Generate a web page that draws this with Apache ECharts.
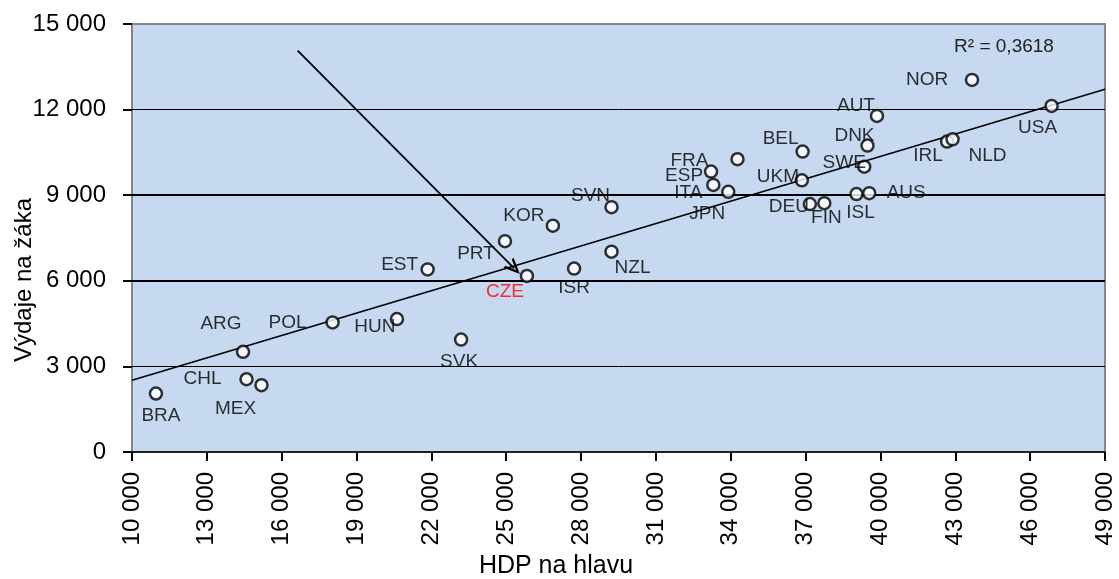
<!DOCTYPE html>
<html>
<head>
<meta charset="utf-8">
<script src="https://cdn.jsdelivr.net/npm/echarts@6/dist/echarts.min.js"></script>
<style>html,body{margin:0;padding:0;background:#fff;}#c{width:1119px;height:579px;}</style>
</head>
<body>
<div id="c"></div>
<script>
// ---- data ----
var countries = ['BRA','ARG','CHL','MEX','POL','HUN','EST','SVK','PRT','CZE','KOR','ISR','SVN','NZL','ESP','ITA','JPN','FRA','BEL','UKM','DEU','FIN','ISL','SWE','AUS','DNK','AUT','IRL','NLD','NOR','USA'];
var gdpPerCapita = [10960,14450,14590,15190,18040,20620,21850,23190,24950,25830,26870,27720,29220,29220,33210,33300,33900,34270,36880,36850,37170,37750,39040,39350,39550,39480,39860,42670,42890,43670,46860];
var spendPerPupil = [2050,3510,2550,2340,4540,4660,6400,3940,7390,6170,7930,6430,8580,7020,9830,9360,9120,10260,10530,9520,8690,8720,9040,10000,9070,10740,11780,10880,10960,13040,12130];
var trendX = [10000, 49000];
var trendY = [2515, 12716];
var arrowFrom = [16640, 14070];
var arrowTo = [25320, 6435];
var yTicks = [3000, 6000, 9000, 12000];
var r2Text = 'R² = 0,3618';

// ---- label placement (style) ----
var labelOffset = {
  BRA:[5,22], ARG:[-22,-28], CHL:[-44,0], MEX:[-26,24], POL:[-45,0], HUN:[-22,8],
  EST:[-28,-5], SVK:[-2,22], PRT:[-29,13], CZE:[-22,16], KOR:[-29,-10], ISR:[0,19],
  SVN:[-21,-11], NZL:[21,16], ESP:[-27,4], ITA:[-25,8], JPN:[-21,22], FRA:[-48,2],
  BEL:[-22,-13], UKM:[-24,-4], DEU:[-21,3], FIN:[2,15], ISL:[4,19], AUS:[37,0],
  SWE:[-20,-4], DNK:[-13,-10], AUT:[-21,-10], IRL:[-19,14], NLD:[35,16], NOR:[-45,0], USA:[-14,22]
};

function fmt(v){
  if (v < 1000) return String(v);
  var t = Math.floor(v/1000), r = v % 1000;
  return t + ' ' + String(r).padStart(3,'0');
}

var scatterData = countries.map(function(c,i){
  return {
    name: c,
    value: [gdpPerCapita[i], spendPerPupil[i]],
    label: { offset: labelOffset[c] || [0,0], color: c === 'CZE' ? '#ff0000' : '#000000' }
  };
});

var gridLines = yTicks.map(function(v){
  return { yAxis: v, lineStyle: { width: (v === 6000 || v === 9000) ? 2 : 1, color: '#000', type: 'solid' } };
});

var chart = echarts.init(document.getElementById('c'), null, {renderer:'canvas'});
chart.setOption({
  animation: false,
  backgroundColor: '#ffffff',
  grid: { left: 132, top: 24, right: 14, bottom: 127, show: true, backgroundColor: '#C6D9F0', borderColor: '#858585', borderWidth: 2 },
  xAxis: {
    type: 'value', min: 10000, max: 49000, interval: 3000,
    axisLine: { show: true, lineStyle: { color: '#000', width: 1.5 } },
    axisTick: { show: true, inside: false, length: 9, lineStyle: { color: '#000', width: 2 } },
    axisLabel: { rotate: 90, margin: 20, formatter: fmt, fontFamily: 'Liberation Sans', fontSize: 24, color: '#000' },
    splitLine: { show: false }
  },
  yAxis: {
    type: 'value', min: 0, max: 15000, interval: 3000,
    axisLine: { show: false },
    axisTick: { show: true, inside: false, length: 9, lineStyle: { color: '#000', width: 2 } },
    axisLabel: { margin: 26, formatter: fmt, fontFamily: 'Liberation Sans', fontSize: 24, color: '#000' },
    splitLine: { show: false }
  },
  graphic: [
    { type: 'text', x: 556, y: 566, style: { text: 'HDP na hlavu', font: '25px "Liberation Sans"', fill: '#000', align: 'center', verticalAlign: 'middle' }, z: 100 },
    { type: 'text', x: 24, y: 280, rotation: Math.PI/2, style: { text: 'Výdaje na žáka', font: '24px "Liberation Sans"', fill: '#000', align: 'center', verticalAlign: 'middle' }, z: 100 },
    { type: 'text', x: 1004, y: 47, style: { text: r2Text, font: '19px "Liberation Sans"', fill: '#222', align: 'center', verticalAlign: 'middle' }, z: 100 }
  ],
  series: [
    {
      type: 'line', name: 'trend', data: trendX.map(function(x,i){ return [x, trendY[i]]; }),
      symbol: 'none', lineStyle: { color: '#000', width: 1.6 }, z: 3, silent: true,
      markLine: { silent: true, symbol: ['none','none'], label: { show: false }, data: gridLines, z: 1 }
    },
    {
      type: 'line', name: 'arrow', data: [], z: 4,
      markLine: {
        silent: true, symbol: ['none', 'path://M5,0 L10,12 L8.2,12 L5,4 L1.8,12 L0,12 Z'], symbolSize: [14, 16],
        label: { show: false }, lineStyle: { color: '#000', width: 1.8, type: 'solid' },
        data: [[{ coord: arrowFrom }, { coord: arrowTo }]]
      }
    },
    {
      type: 'scatter', name: 'countries', data: scatterData, z: 10,
      symbol: 'circle', symbolSize: 12,
      itemStyle: { color: '#fff', borderColor: '#000', borderWidth: 2.5 },
      label: { show: true, position: 'inside', formatter: '{b}', fontFamily: 'Liberation Sans', fontSize: 19, textBorderWidth: 0, textShadowBlur: 0 }
    }
  ]
});
</script>
</body>
</html>
